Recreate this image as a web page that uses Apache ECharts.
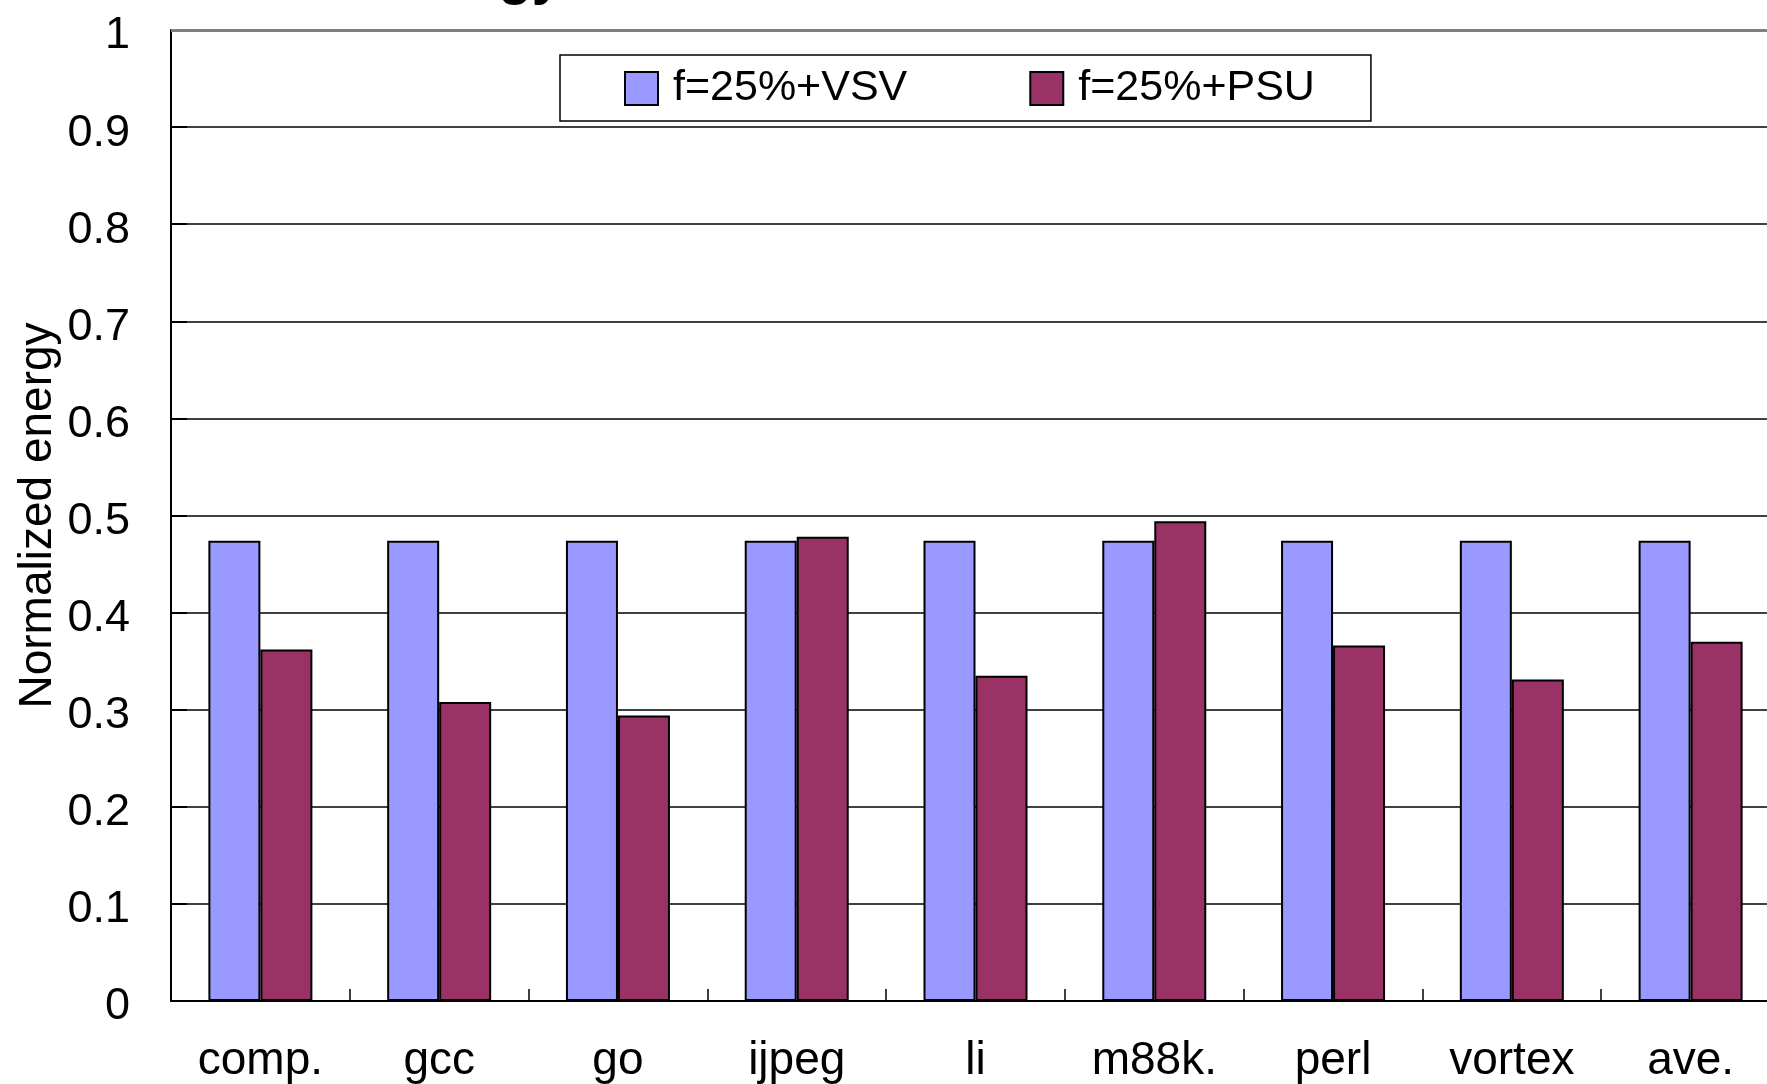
<!DOCTYPE html>
<html>
<head>
<meta charset="utf-8">
<script src="https://cdn.jsdelivr.net/npm/echarts@6/dist/echarts.min.js"></script>
<style>
  html, body { margin: 0; padding: 0; background: #fff; overflow: hidden; }
  /* the plot runs a little past the right edge of the picture */
  #chart { width: 1800px; height: 1084px; }
</style>
</head>
<body>
<div id="chart"></div>
<script>
// benchmarks on the x axis
const benchmarks = ["comp.", "gcc", "go", "ijpeg", "li", "m88k.", "perl", "vortex", "ave."];
const seriesNames = ["f=25%+VSV", "f=25%+PSU"];
// normalized energy
const vsvValues = [0.474, 0.474, 0.474, 0.474, 0.474, 0.474, 0.474, 0.474, 0.474];
const psuValues = [0.362, 0.308, 0.294, 0.478, 0.335, 0.494, 0.366, 0.331, 0.370];

const font = "Liberation Sans, Arial, sans-serif";

const chart = echarts.init(document.getElementById("chart"));
chart.setOption({
  backgroundColor: "#fff",
  animation: false,
  title: {
    text: "Energy",
    left: 371,
    top: -55,
    textStyle: { fontFamily: font, fontSize: 55, fontWeight: "bold", color: "#000" },
  },
  legend: {
    data: seriesNames,
    left: 560,
    top: 55,
    padding: [12, 56, 11, 64],
    borderColor: "#000",
    borderWidth: 1.5,
    itemWidth: 33,
    itemHeight: 33,
    itemGap: 122,
    icon: "rect",
    textStyle: { fontFamily: font, fontSize: 43, color: "#000", padding: [0, 0, 0, 10] },
  },
  grid: {
    left: 171,
    top: 30,
    width: 1609,
    height: 971,
  },
  xAxis: {
    type: "category",
    data: benchmarks,
    axisLine: { lineStyle: { color: "#000", width: 2 } },
    axisTick: { show: true, inside: true, length: 12, lineStyle: { color: "#000", width: 1.5 } },
    axisLabel: { fontFamily: font, fontSize: 46, color: "#000", margin: 37 },
  },
  yAxis: {
    type: "value",
    min: 0,
    max: 1,
    interval: 0.1,
    name: "Normalized energy",
    nameLocation: "middle",
    nameRotate: 90,
    nameGap: 110,
    nameMoveOverlap: false,
    nameTextStyle: { fontFamily: font, fontSize: 46, color: "#000" },
    axisLine: { show: true, lineStyle: { color: "#000", width: 2 } },
    axisTick: { show: true, inside: true, length: 16, lineStyle: { color: "#000", width: 2 } },
    axisLabel: {
      margin: 41,
      formatter: (v) => "{v|" + v + "}",
      rich: {
        v: { fontFamily: font, fontSize: 45, color: "#000", padding: [12, 0, 0, 0] },
      },
    },
    splitLine: { show: true, lineStyle: { color: "#000", width: 1.5 } },
  },
  series: [
    {
      name: seriesNames[0],
      type: "bar",
      data: vsvValues,
      barWidth: 52,
      barGap: "0%",
      itemStyle: { color: "#9999FF", borderColor: "#000", borderWidth: 2 },
      markLine: {
        silent: true,
        symbol: "none",
        label: { show: false },
        lineStyle: { color: "#808080", width: 3, type: "solid" },
        data: [{ yAxis: 1 }],
      },
    },
    {
      name: seriesNames[1],
      type: "bar",
      data: psuValues,
      barWidth: 52,
      barGap: "0%",
      itemStyle: { color: "#993366", borderColor: "#000", borderWidth: 2 },
    },
  ],
});
</script>
</body>
</html>
